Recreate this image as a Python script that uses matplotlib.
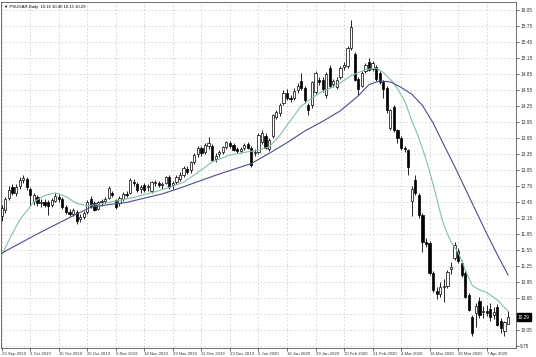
import numpy as np
import matplotlib
matplotlib.use('Agg')
import matplotlib.pyplot as plt

plt.rcParams['font.family'] = ['Liberation Sans', 'DejaVu Sans']

# 日线数据 (PSUGAR, 23 Sep 2019 - 16 Apr 2020)
opens = [12.18, 12.30, 12.52, 12.72, 12.62, 12.74, 12.86, 12.88, 12.70, 12.46,
         12.55, 12.42, 12.44, 12.44, 12.40, 12.46, 12.55, 12.50, 12.36, 12.26,
         12.22, 12.26, 12.12, 12.16, 12.26, 12.50, 12.42, 12.32, 12.44, 12.46,
         12.52, 12.62, 12.48, 12.42, 12.50, 12.60, 12.62, 12.82, 12.78, 12.70,
         12.77, 12.72, 12.66, 12.80, 12.80, 12.76, 12.80, 12.92, 12.76, 12.82,
         12.88, 12.96, 13.06, 13.04, 13.20, 13.34, 13.46, 13.39, 13.50, 13.50,
         13.26, 13.34, 13.38, 13.48, 13.56, 13.52, 13.44, 13.40, 13.46, 13.54,
         13.46, 13.36, 13.38, 13.58, 13.68, 13.44, 13.68, 14.05, 14.12, 14.30,
         14.50, 14.40, 14.40, 14.55, 14.72, 14.58, 14.26, 14.26, 14.52, 14.74,
         14.74, 14.46, 14.96, 14.66, 14.60, 14.80, 14.98, 15.00, 15.34, 15.22,
         14.76, 14.62, 14.90, 15.08, 14.94, 14.98, 14.86, 14.70, 14.58, 13.84,
         14.23, 13.80, 13.65, 13.46, 13.42, 12.46, 12.86, 12.58, 12.20, 11.70,
         11.68, 11.12, 10.78, 10.72, 10.86, 10.88, 11.20, 11.40, 11.52, 11.30,
         11.12, 10.70, 10.29, 10.36, 10.60, 10.38, 10.40, 10.44, 10.32, 10.48,
         10.22, 10.02, 10.16]
highs = [12.40, 12.55, 12.75, 12.78, 12.78, 12.92, 12.96, 12.92, 12.72, 12.62,
         12.58, 12.50, 12.50, 12.48, 12.52, 12.62, 12.60, 12.54, 12.40, 12.32,
         12.34, 12.30, 12.22, 12.28, 12.48, 12.56, 12.46, 12.46, 12.50, 12.54,
         12.74, 12.66, 12.50, 12.56, 12.64, 12.66, 12.90, 12.88, 12.82, 12.76,
         12.80, 12.78, 12.84, 12.86, 12.84, 12.82, 12.94, 12.96, 12.84, 12.96,
         13.02, 13.12, 13.12, 13.22, 13.36, 13.50, 13.50, 13.56, 13.66, 13.54,
         13.36, 13.42, 13.50, 13.60, 13.60, 13.56, 13.48, 13.48, 13.56, 13.58,
         13.50, 13.44, 13.74, 13.80, 13.74, 13.64, 14.10, 14.18, 14.30, 14.54,
         14.56, 14.46, 14.58, 14.68, 14.86, 14.62, 14.30, 14.72, 14.90, 14.80,
         14.80, 14.88, 15.02, 14.76, 14.80, 15.00, 15.08, 15.38, 15.86, 15.26,
         14.80, 14.90, 15.05, 15.15, 15.10, 15.02, 14.90, 14.74, 14.62, 14.20,
         14.26, 13.82, 13.68, 13.50, 13.45, 12.75, 12.95, 12.62, 12.24, 11.78,
         11.72, 11.15, 10.86, 10.95, 11.00, 11.18, 11.33, 11.70, 11.58, 11.36,
         11.16, 10.74, 10.32, 10.56, 10.66, 10.50, 10.52, 10.56, 10.48, 10.54,
         10.28, 10.22, 10.40]
lows = [12.10, 12.25, 12.48, 12.58, 12.56, 12.70, 12.80, 12.68, 12.38, 12.40,
        12.38, 12.36, 12.35, 12.20, 12.36, 12.44, 12.45, 12.32, 12.22, 12.18,
        12.18, 12.04, 12.08, 12.12, 12.22, 12.34, 12.28, 12.30, 12.38, 12.42,
        12.50, 12.54, 12.32, 12.38, 12.46, 12.54, 12.60, 12.74, 12.64, 12.62,
        12.64, 12.66, 12.62, 12.74, 12.72, 12.70, 12.78, 12.70, 12.70, 12.78,
        12.84, 12.92, 12.98, 13.00, 13.16, 13.30, 13.32, 13.35, 13.44, 13.22,
        13.20, 13.30, 13.34, 13.44, 13.46, 13.40, 13.36, 13.36, 13.42, 13.44,
        13.10, 13.32, 13.34, 13.54, 13.44, 13.40, 13.64, 14.00, 14.06, 14.26,
        14.36, 14.32, 14.36, 14.50, 14.55, 14.30, 14.08, 14.22, 14.48, 14.64,
        14.52, 14.40, 14.58, 14.60, 14.56, 14.76, 14.92, 14.96, 15.30, 14.72,
        14.46, 14.60, 14.86, 14.90, 14.90, 14.72, 14.66, 14.40, 14.12, 13.80,
        13.76, 13.55, 13.42, 13.38, 12.95, 12.18, 12.58, 12.15, 11.51, 11.60,
        11.08, 10.76, 10.62, 10.66, 10.58, 10.84, 11.10, 11.36, 11.30, 11.05,
        10.64, 10.40, 9.94, 10.10, 10.28, 10.28, 10.30, 10.22, 10.26, 10.12,
        9.99, 9.93, 10.15]
closes = [12.33, 12.50, 12.68, 12.62, 12.72, 12.86, 12.90, 12.72, 12.58, 12.58,
          12.42, 12.45, 12.40, 12.38, 12.48, 12.56, 12.50, 12.36, 12.26, 12.22,
          12.30, 12.10, 12.16, 12.24, 12.45, 12.38, 12.30, 12.44, 12.46, 12.50,
          12.71, 12.58, 12.35, 12.52, 12.60, 12.58, 12.86, 12.80, 12.68, 12.72,
          12.67, 12.74, 12.82, 12.82, 12.76, 12.78, 12.92, 12.73, 12.80, 12.92,
          12.96, 13.08, 13.02, 13.20, 13.33, 13.46, 13.37, 13.52, 13.56, 13.24,
          13.32, 13.38, 13.48, 13.57, 13.50, 13.42, 13.40, 13.44, 13.52, 13.47,
          13.14, 13.38, 13.70, 13.74, 13.47, 13.61, 14.08, 14.14, 14.26, 14.50,
          14.40, 14.38, 14.53, 14.63, 14.58, 14.36, 14.18, 14.70, 14.86, 14.70,
          14.56, 14.84, 14.62, 14.72, 14.74, 14.96, 15.02, 15.34, 15.73, 14.74,
          14.56, 14.87, 15.02, 14.93, 15.06, 14.76, 14.70, 14.56, 14.17, 14.17,
          13.80, 13.65, 13.46, 13.44, 13.10, 12.70, 12.62, 12.20, 11.70, 11.66,
          11.12, 10.80, 10.72, 10.86, 10.88, 11.13, 11.22, 11.64, 11.34, 11.08,
          10.67, 10.42, 9.99, 10.50, 10.33, 10.40, 10.36, 10.29, 10.38, 10.14,
          10.08, 10.20, 10.29]

# 两条均线 (从图上读取的点)
fast_idx = [0, 2, 5, 9, 12, 15, 18, 21, 24, 27, 30, 34, 38, 43, 47, 51, 55, 59,
            64, 69, 72, 75, 78, 80, 84, 89, 94, 98, 102, 105, 107, 110, 113, 115,
            117, 119, 120, 121, 122, 123, 124, 125, 126, 127, 128, 129, 130, 131,
            132, 134, 136, 139, 142]
fast_ma = [11.45, 11.73, 12.11, 12.45, 12.57, 12.62, 12.55, 12.42, 12.38, 12.40,
           12.44, 12.49, 12.55, 12.64, 12.72, 12.82, 13.00, 13.20, 13.33, 13.39,
           13.42, 13.48, 13.70, 13.89, 14.25, 14.49, 14.64, 14.82, 14.93, 14.96,
           14.88, 14.68, 14.35, 13.98, 13.65, 13.25, 13.02, 12.78, 12.52, 12.25,
           12.02, 11.85, 11.70, 11.60, 11.50, 11.35, 11.18, 11.02, 10.88, 10.80,
           10.75, 10.61, 10.40]
slow_idx = [0, 5, 10, 15, 20, 25, 30, 35, 40, 45, 50, 55, 60, 65, 70, 75, 80, 85,
            90, 95, 100, 103, 106, 109, 112, 115, 118, 121, 124, 127, 130, 133,
            136, 139, 142]
slow_ma = [11.49, 11.67, 11.85, 12.02, 12.19, 12.35, 12.40, 12.44, 12.52, 12.60,
           12.71, 12.83, 12.95, 13.06, 13.17, 13.36, 13.56, 13.78, 13.96, 14.16,
           14.44, 14.65, 14.72, 14.70, 14.60, 14.47, 14.26, 13.93, 13.52, 13.12,
           12.70, 12.28, 11.86, 11.46, 11.08]

date_labels = ['23 Sep 2019', '3 Oct 2019', '15 Oct 2019', '25 Oct 2019', '6 Nov 2019',
               '18 Nov 2019', '29 Nov 2019', '11 Dec 2019', '23 Dec 2019', '6 Jan 2020',
               '16 Jan 2020', '29 Jan 2020', '10 Feb 2020', '21 Feb 2020', '4 Mar 2020',
               '16 Mar 2020', '26 Mar 2020', '7 Apr 2020']
price_ticks = np.round(np.arange(9.75, 16.06, 0.30), 2)

o = np.array(opens); h = np.array(highs); l = np.array(lows); c = np.array(closes)
x = np.arange(len(c))
up = c >= o

fig = plt.figure(figsize=(5.36, 3.57), dpi=100)
ax = fig.add_axes([1/536, 9/357, 515/536, 346/357])

# 蜡烛
ax.vlines(x, l, h, color='black', linewidth=0.6, zorder=2)
body = np.maximum(np.abs(c - o), 0.01)
ax.bar(x[up], body[up], bottom=np.minimum(o, c)[up], width=0.62,
       color='white', edgecolor='black', linewidth=0.5, zorder=3)
ax.bar(x[~up], body[~up], bottom=np.minimum(o, c)[~up], width=0.62,
       color='black', edgecolor='black', linewidth=0.5, zorder=3)

# 均线
ax.plot(fast_idx, fast_ma, color='#86bfa6', linewidth=0.8, zorder=4)
ax.plot(slow_idx, slow_ma, color='#4a4f8c', linewidth=0.8, zorder=4)

ax.set_xlim(-0.22, 144.24)
ax.set_ylim(9.709, 16.20)

ax.set_xticks(np.arange(len(date_labels)) * 8)
ax.set_xticklabels(date_labels, fontsize=3.1, ha='left')
ax.yaxis.tick_right()
ax.set_yticks(price_ticks)
# 当前价格框盖住的刻度不显示文字
ylabels = ['' if abs(p - closes[-1]) < 0.1 else '%.2f' % p for p in price_ticks]
ax.set_yticklabels(ylabels, fontsize=3.4)
ax.tick_params(axis='both', length=2, width=0.5, pad=1, colors='#333333')

ax.grid(True, color='#c8c8c8', linestyle=(0, (3, 3)), linewidth=0.45)
ax.set_axisbelow(True)
for s in ax.spines.values():
    s.set_color('#555555')
    s.set_linewidth(0.6)

# 当前价格标签
ax.text(1.004, closes[-1], '%.2f' % closes[-1], transform=ax.get_yaxis_transform(),
        fontsize=3.4, color='white', va='center', ha='left', zorder=6,
        bbox=dict(boxstyle='square,pad=0.25', facecolor='black', edgecolor='black'))

# 左上角标题
fig.text(4/536, 1 - 7/357, '\u25bc PSUGAR,Daily  %.2f %.2f %.2f %.2f' % (opens[-1], highs[-1], lows[-1], closes[-1]),
         fontsize=3.1, va='center', ha='left', color='black')

fig.savefig('out.png', dpi=100)
